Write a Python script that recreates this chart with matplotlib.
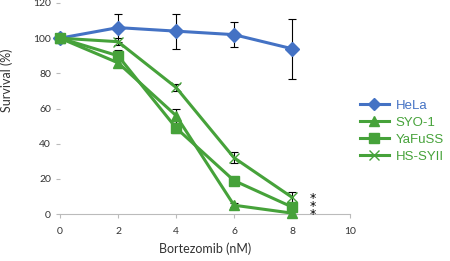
import matplotlib
matplotlib.use("Agg")
import matplotlib.pyplot as plt
from matplotlib.lines import Line2D

dose = [0, 2, 4, 6, 8]
hela = [100, 106, 104, 102, 94]
hela_err = [0, 8, 10, 7, 17]
syo1 = [100, 86, 56, 5, 0.5]
syo1_err = [0, 2, 4, 1, 0.5]
yafuss = [100, 90, 49, 19, 4]
yafuss_err = [0, 3, 3, 1, 1]
hssyii = [100, 98, 72, 32, 9.5]
hssyii_err = [0, 2, 2, 3, 3]
labels = ["HeLa", "SYO-1", "YaFuSS", "HS-SYII"]

blue = "#4472C4"
green = "#46A23A"

fig = plt.figure(figsize=(4.5, 2.61), dpi=100)
ax = fig.add_axes([60/450, 47/261, 290/450, 211/261])

tick_font = "Lato"
lw = 2.2
series = [
    (hela, hela_err, blue, "D", 7.5),
    (syo1, syo1_err, green, "^", 7.5),
    (yafuss, yafuss_err, green, "s", 7.5),
    (hssyii, hssyii_err, green, "x", 7.5),
]
handles = []
for (vals, err, col, mk, ms), lab in zip(series, labels):
    ax.errorbar(dose, vals, yerr=err, fmt="none", ecolor="black", elinewidth=0.8,
                capsize=3, capthick=0.8, zorder=2)
    ax.plot(dose, vals, color=col, marker=mk, ms=ms, lw=lw, mew=1, zorder=3,
            clip_on=False)
    handles.append(Line2D([], [], color=col, marker=mk, ms=6.5, lw=lw, mew=1))

ax.text(8.7, 4.0, "*\n*\n*", ha="center", va="center", fontsize=9,
        color="black", linespacing=0.5)

ax.set_xlim(0, 10)
ax.set_ylim(0, 120)
ax.set_xticks([0, 2, 4, 6, 8, 10])
ax.set_yticks([0, 20, 40, 60, 80, 100, 120])
for s in ["top", "right", "left"]:
    ax.spines[s].set_visible(False)
ax.spines["bottom"].set_color("#BBBBBB")
ax.tick_params(axis="both", colors="#BBBBBB", labelcolor="#333333", labelsize=7.5,
               length=3, width=0.8)
ax.tick_params(axis="x", pad=6)
for lab in ax.get_xticklabels() + ax.get_yticklabels():
    lab.set_fontfamily(tick_font)
ax.set_xlabel("Bortezomib (nM)", fontsize=9, family=tick_font, color="#333333", labelpad=5)

fig.text(7/450, 1 - 80/261, "Survival (%)", rotation=90, ha="center", va="center",
         fontsize=9, family=tick_font, color="#333333")

leg = fig.legend(handles, labels, loc="upper left", bbox_to_anchor=(348/450, 1 - 88/261),
                 frameon=False, prop={"family": "Liberation Sans", "size": 9.5},
                 handlelength=2.2, labelspacing=0.35, handletextpad=0.5)
for txt, c in zip(leg.get_texts(), [blue, green, green, green]):
    txt.set_color(c)

fig.savefig("out.png", dpi=100)
